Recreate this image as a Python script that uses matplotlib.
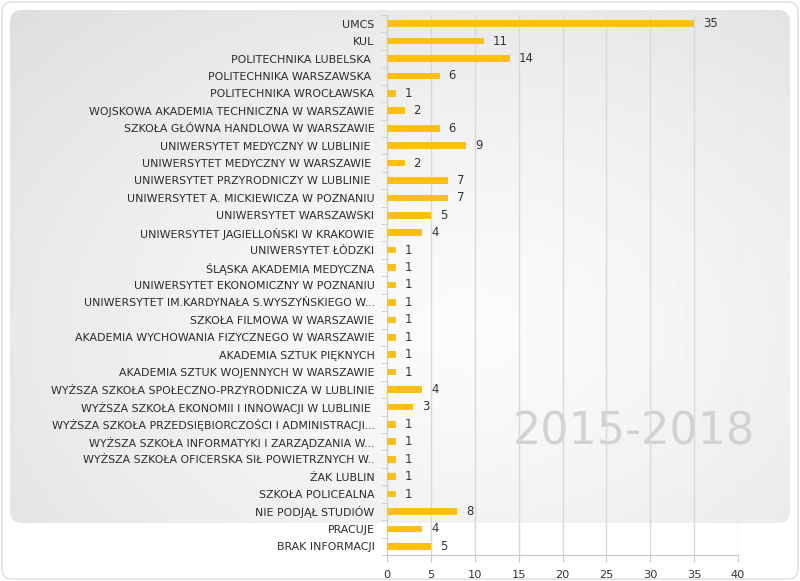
import numpy as np
import matplotlib
matplotlib.use("Agg")
import matplotlib.pyplot as plt
from matplotlib.patches import FancyBboxPatch

categories = [
    "UMCS", "KUL", "POLITECHNIKA LUBELSKA ", "POLITECHNIKA WARSZAWSKA ",
    "POLITECHNIKA WROCŁAWSKA", "WOJSKOWA AKADEMIA TECHNICZNA W WARSZAWIE",
    "SZKOŁA GŁÓWNA HANDLOWA W WARSZAWIE", "UNIWERSYTET MEDYCZNY W LUBLINIE ",
    "UNIWERSYTET MEDYCZNY W WARSZAWIE ", "UNIWERSYTET PRZYRODNICZY W LUBLINIE ",
    "UNIWERSYTET A. MICKIEWICZA W POZNANIU", "UNIWERSYTET WARSZAWSKI",
    "UNIWERSYTET JAGIELLOŃSKI W KRAKOWIE", "UNIWERSYTET ŁÓDZKI",
    "ŚLĄSKA AKADEMIA MEDYCZNA", "UNIWERSYTET EKONOMICZNY W POZNANIU",
    "UNIWERSYTET IM.KARDYNAŁA S.WYSZYŃSKIEGO W...", "SZKOŁA FILMOWA W WARSZAWIE",
    "AKADEMIA WYCHOWANIA FIZYCZNEGO W WARSZAWIE", "AKADEMIA SZTUK PIĘKNYCH",
    "AKADEMIA SZTUK WOJENNYCH W WARSZAWIE",
    "WYŻSZA SZKOŁA SPOŁECZNO-PRZYRODNICZA W LUBLINIE",
    "WYŻSZA SZKOŁA EKONOMII I INNOWACJI W LUBLINIE ",
    "WYŻSZA SZKOŁA PRZEDSIĘBIORCZOŚCI I ADMINISTRACJI...",
    "WYŻSZA SZKOŁA INFORMATYKI I ZARZĄDZANIA W...",
    "WYŻSZA SZKOŁA OFICERSKA SIŁ POWIETRZNYCH W..",
    "ŻAK LUBLIN", "SZKOŁA POLICEALNA", "NIE PODJĄŁ STUDIÓW", "PRACUJE",
    "BRAK INFORMACJI",
]
values = [35, 11, 14, 6, 1, 2, 6, 9, 2, 7, 7, 5, 4, 1, 1, 1, 1, 1, 1, 1, 1,
          4, 3, 1, 1, 1, 1, 1, 8, 4, 5]
xticks = [0, 5, 10, 15, 20, 25, 30, 35, 40]
watermark = "2015-2018"

plt.rcParams["font.family"] = ["DejaVu Sans"]

W, H = 800, 581
fig = plt.figure(figsize=(W / 100, H / 100), dpi=100)
fig.patch.set_facecolor("white")

# background layer in pixel coords
bg = fig.add_axes([0, 0, 1, 1], zorder=-1)
bg.axis("off")

outer = FancyBboxPatch((2, 2), W - 4, H - 4, boxstyle="round,pad=0,rounding_size=10",
                       fc="white", ec="#dcdcdc", lw=1, zorder=0)
bg.add_patch(outer)

# grey panel with a soft radial gradient
px0, py0, px1, py1 = 10, 10, 790, 523
yy, xx = np.mgrid[py0:py1, px0:px1]
r = np.sqrt(((xx - 470) / 460.0) ** 2 + ((yy - 330) / 330.0) ** 2)
grad = 0.985 - 0.075 * np.clip(r, 0, 1.5) ** 1.3
img = bg.imshow(grad, cmap="gray", vmin=0, vmax=1, extent=(px0, px1, py1, py0),
                interpolation="bilinear", zorder=1)
panel = FancyBboxPatch((px0, py0), px1 - px0, py1 - py0,
                       boxstyle="round,pad=0,rounding_size=12", fc="none", ec="none")
bg.add_patch(panel)
img.set_clip_path(panel)
bg.set_xlim(0, W)
bg.set_ylim(H, 0)

bg.text(634, 432, watermark, fontsize=32, color="#d2d2d2", ha="center", va="center",
        zorder=2)

ax = fig.add_axes([387 / W, 1 - 555 / H, (738 - 387) / W, (555 - 15) / H])
ax.patch.set_alpha(0)
y = np.arange(len(categories))
ax.barh(y, values, height=0.38, color="#FDC010", zorder=3)
ax.set_ylim(len(categories) - 0.5, -0.5)
ax.set_xlim(0, 40)
ax.set_xticks(xticks)
ax.set_xticklabels([str(t) for t in xticks])
ax.set_yticks(y)
ax.set_yticklabels(categories)
ax.set_yticks(np.arange(len(categories) + 1) - 0.5, minor=True)
ax.tick_params(axis="y", which="major", length=0, pad=9, labelsize=7.9, labelcolor="#2b2b2b")
ax.tick_params(axis="y", which="minor", length=4, color="#cccccc", direction="out")
ax.tick_params(axis="x", length=5, color="#c8c8c8", labelsize=8.2, labelcolor="#333333", pad=6)
ax.grid(axis="x", color="#d9d9d9", lw=1, zorder=1)
for s in ["top", "right"]:
    ax.spines[s].set_visible(False)
ax.spines["left"].set_color("#d0d0d0")
ax.spines["bottom"].set_color("#c8c8c8")

for yi, v in zip(y, values):
    ax.annotate(str(v), (v, yi), xytext=(6.5, 0), textcoords="offset points",
                va="center", ha="left", fontsize=8.4, color="#333333")

fig.savefig("out.png", dpi=100)
